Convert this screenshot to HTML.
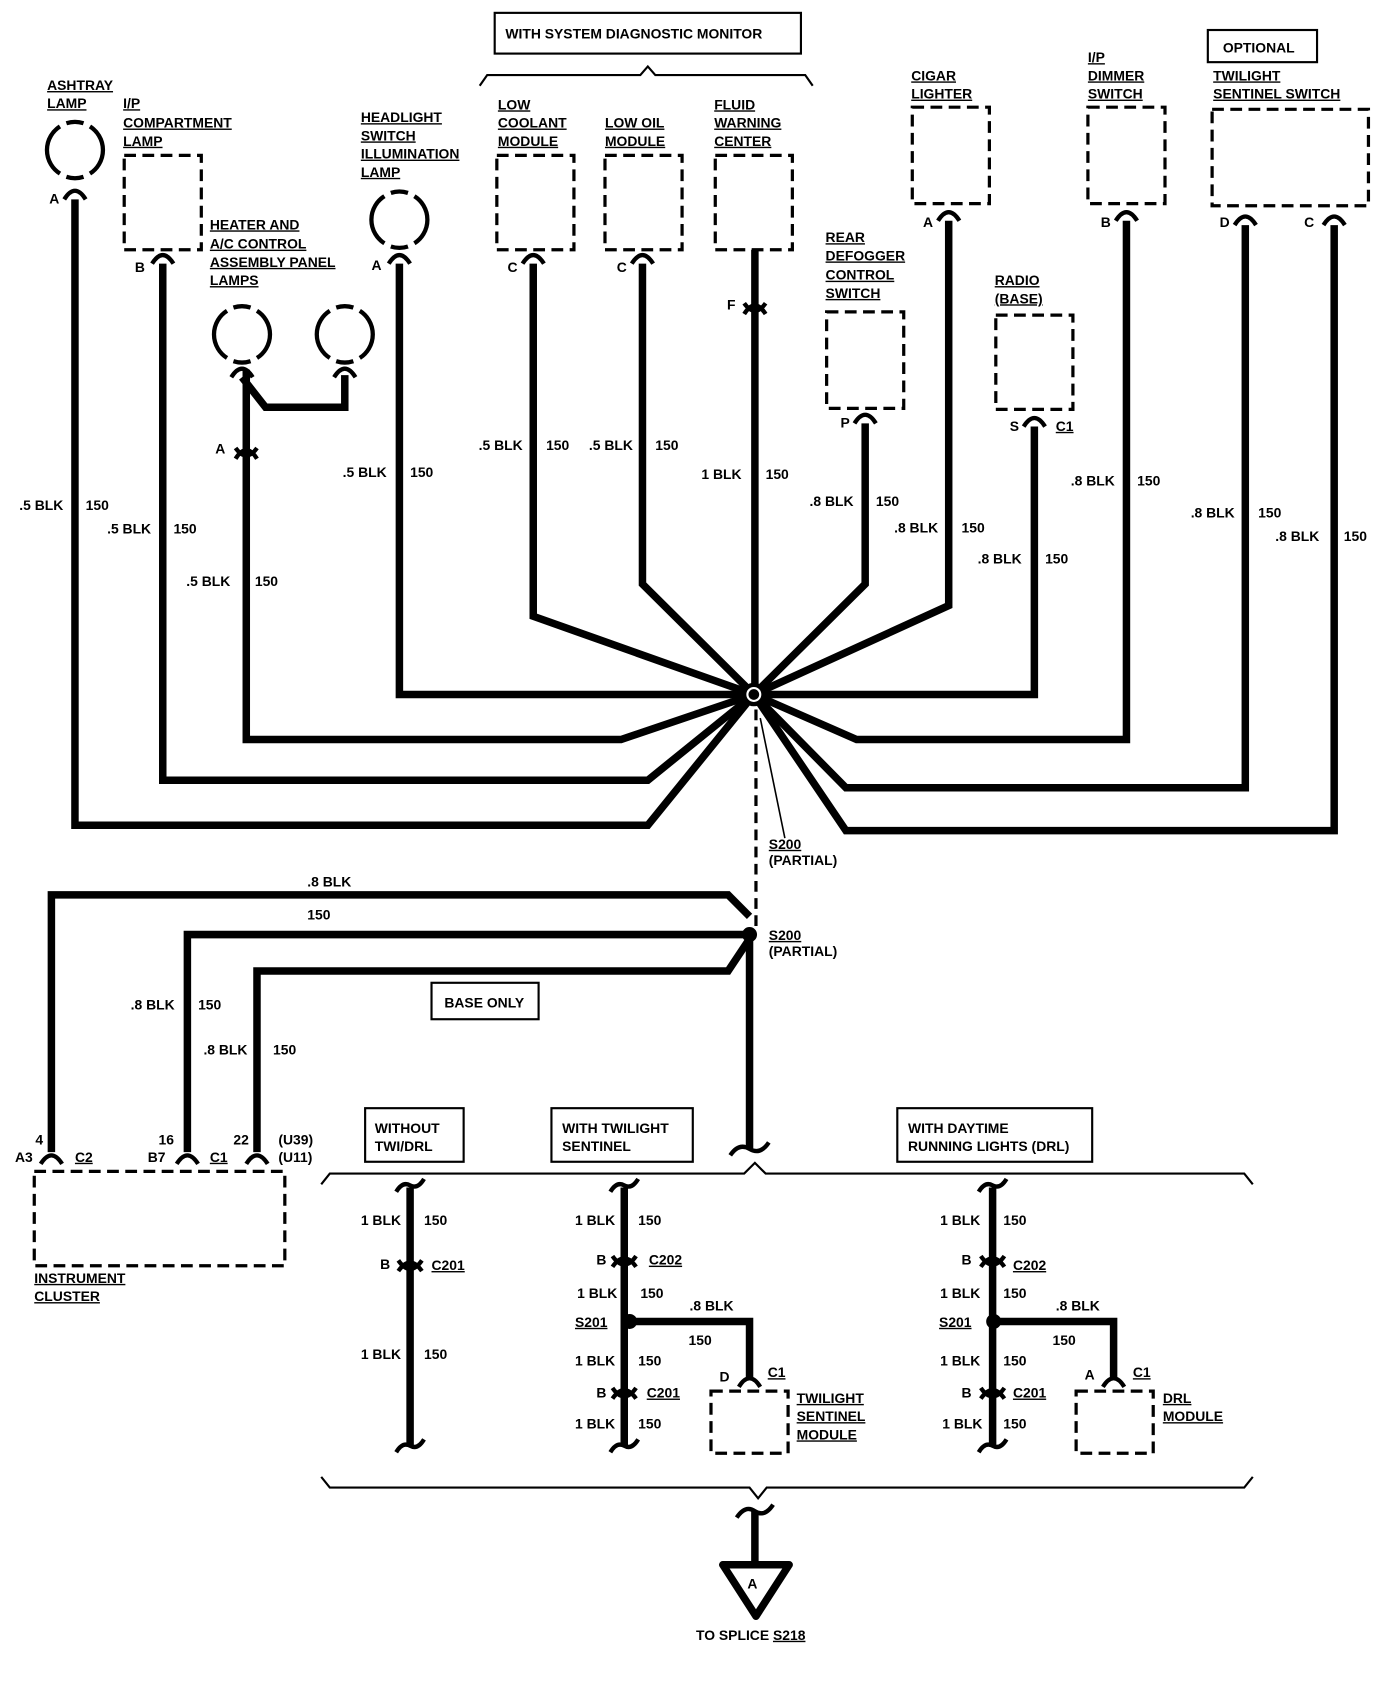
<!DOCTYPE html>
<html><head><meta charset="utf-8"><style>
html,body{margin:0;padding:0;background:#fff}
svg{display:block}
text{font-family:"Liberation Sans",sans-serif;font-weight:bold;font-size:13px;fill:#000}
.w{fill:none;stroke:#000;stroke-width:7;stroke-linejoin:miter}
.b{fill:none;stroke:#000;stroke-width:3;stroke-dasharray:11 6}
.c{fill:none;stroke:#000;stroke-width:4}
.t{fill:none;stroke:#000;stroke-width:2}
.l{fill:none;stroke:#000;stroke-width:4}
</style></head><body>
<svg width="1392" height="1688" viewBox="0 0 1300 1575" preserveAspectRatio="none" xmlns="http://www.w3.org/2000/svg">
<defs>
<g id="lamp">
<path d="M-14 -22 A26 26 0 0 0 -14 22" class="l"/>
<path d="M14 -22 A26 26 0 0 1 14 22" class="l"/>
<path d="M-8 -25 A26 26 0 0 1 8 -25" class="l"/>
<path d="M-8 25 A26 26 0 0 0 8 25" class="l"/>
</g>
</defs>
<rect x="462" y="12" width="286" height="38" class="t"/>
<text x="472" y="36">WITH SYSTEM DIAGNOSTIC MONITOR</text>
<path d="M448 80 L455 70 L598 70 L605 62 L612 70 L752 70 L759 80" class="t"/>
<rect x="1128" y="28" width="102" height="30" class="t"/>
<text x="1142" y="49">OPTIONAL</text>

<g text-decoration="underline">
<text x="44" y="84">ASHTRAY</text><text x="44" y="101">LAMP</text>
<text x="115" y="101">I/P</text><text x="115" y="119">COMPARTMENT</text><text x="115" y="136">LAMP</text>
<text x="196" y="214">HEATER AND</text><text x="196" y="232">A/C CONTROL</text><text x="196" y="249">ASSEMBLY PANEL</text><text x="196" y="266">LAMPS</text>
<text x="337" y="114">HEADLIGHT</text><text x="337" y="131">SWITCH</text><text x="337" y="148">ILLUMINATION</text><text x="337" y="165">LAMP</text>
<text x="465" y="102">LOW</text><text x="465" y="119">COOLANT</text><text x="465" y="136">MODULE</text>
<text x="565" y="119">LOW OIL</text><text x="565" y="136">MODULE</text>
<text x="667" y="102">FLUID</text><text x="667" y="119">WARNING</text><text x="667" y="136">CENTER</text>
<text x="851" y="75">CIGAR</text><text x="851" y="92">LIGHTER</text>
<text x="1016" y="58">I/P</text><text x="1016" y="75">DIMMER</text><text x="1016" y="92">SWITCH</text>
<text x="1133" y="75">TWILIGHT</text><text x="1133" y="92">SENTINEL SWITCH</text>
<text x="771" y="226">REAR</text><text x="771" y="243">DEFOGGER</text><text x="771" y="261">CONTROL</text><text x="771" y="278">SWITCH</text>
<text x="929" y="266">RADIO</text><text x="929" y="283">(BASE)</text>
</g>

<use href="#lamp" x="70" y="140"/>
<use href="#lamp" x="373" y="205"/>
<use href="#lamp" x="226" y="312"/>
<use href="#lamp" x="322" y="312"/>

<rect x="116" y="145" width="72" height="88" class="b"/>
<rect x="464" y="145" width="72" height="88" class="b"/>
<rect x="565" y="145" width="72" height="88" class="b"/>
<rect x="668" y="145" width="72" height="88" class="b"/>
<rect x="852" y="100" width="72" height="90" class="b"/>
<rect x="1016" y="100" width="72" height="90" class="b"/>
<rect x="1132" y="102" width="146" height="90" class="b"/>
<rect x="772" y="291" width="72" height="90" class="b"/>
<rect x="930" y="294" width="72" height="88" class="b"/>

<g class="c">
<path d="M60 186 Q70 170 80 186"/><path d="M142 246 Q152 230 162 246"/>
<path d="M363 246 Q373 230 383 246"/><path d="M488 246 Q498 230 508 246"/>
<path d="M590 246 Q600 230 610 246"/><path d="M876 206 Q886 190 896 206"/>
<path d="M1042 206 Q1052 190 1062 206"/><path d="M1153 210 Q1163 194 1173 210"/>
<path d="M1236 210 Q1246 194 1256 210"/><path d="M798 395 Q808 379 818 395"/>
<path d="M956 398 Q966 382 976 398"/><path d="M216 352 Q226 336 236 352"/>
<path d="M312 352 Q322 336 332 352"/>
<path d="M220 428 Q230 412 240 428"/><path d="M220 418 Q230 432 240 418"/>
<path d="M695 293 Q705 277 715 293"/><path d="M695 283 Q705 297 715 283"/>
</g>
<g font-size="12">
<text x="46" y="190">A</text><text x="126" y="254">B</text><text x="347" y="252">A</text>
<text x="474" y="254">C</text><text x="576" y="254">C</text><text x="679" y="289">F</text>
<text x="862" y="212">A</text><text x="1028" y="212">B</text><text x="1139" y="212">D</text><text x="1218" y="212">C</text>
<text x="785" y="399">P</text><text x="943" y="402">S</text><text x="986" y="402" text-decoration="underline">C1</text>
<text x="201" y="423">A</text>
</g>

<g class="w">
<path d="M70 186 V770 H605 L704 648"/>
<path d="M152 246 V728 H605 L704 648"/>
<path d="M230 345 V690 H580 L704 648"/>
<path d="M226 352 L248 380 H322 V350"/>
<path d="M373 246 V648 H704"/>
<path d="M498 246 V575 L704 648"/>
<path d="M600 246 V545 L704 648"/>
<path d="M705 233 V648"/>
<path d="M808 395 V545 L704 648"/>
<path d="M886 206 V565 L704 648"/>
<path d="M966 398 V648 H704"/>
<path d="M1052 206 V690 H800 L704 648"/>
<path d="M1163 210 V735 H790 L704 648"/>
<path d="M1246 210 V775 H790 L704 648"/>
</g>
<circle cx="704" cy="648" r="9" fill="#fff" stroke="#000" stroke-width="4"/>
<circle cx="704" cy="648" r="5" fill="#000"/>
<path d="M706 662 V870" stroke="#000" stroke-width="3" stroke-dasharray="10 6"/>
<path d="M710 670 L733 782" stroke="#000" stroke-width="1.5"/>
<text x="718" y="792" text-decoration="underline">S200</text><text x="718" y="807">(PARTIAL)</text>

<g>
<text x="18" y="476">.5 BLK</text><text x="80" y="476">150</text>
<text x="100" y="498">.5 BLK</text><text x="162" y="498">150</text>
<text x="174" y="547">.5 BLK</text><text x="238" y="547">150</text>
<text x="320" y="445">.5 BLK</text><text x="383" y="445">150</text>
<text x="447" y="420">.5 BLK</text><text x="510" y="420">150</text>
<text x="550" y="420">.5 BLK</text><text x="612" y="420">150</text>
<text x="655" y="447">1 BLK</text><text x="715" y="447">150</text>
<text x="756" y="472">.8 BLK</text><text x="818" y="472">150</text>
<text x="835" y="497">.8 BLK</text><text x="898" y="497">150</text>
<text x="913" y="526">.8 BLK</text><text x="976" y="526">150</text>
<text x="1000" y="453">.8 BLK</text><text x="1062" y="453">150</text>
<text x="1112" y="483">.8 BLK</text><text x="1175" y="483">150</text>
<text x="1191" y="505">.8 BLK</text><text x="1255" y="505">150</text>
</g>

<g class="w">
<path d="M48 1075 V835 H680 L700 855"/>
<path d="M175 1075 V872 H700"/>
<path d="M240 1075 V906 H680 L700 876"/>
<path d="M700 872 V1072"/>
</g>
<circle cx="700" cy="872" r="7" fill="#000"/>
<path d="M682 1078 Q690 1066 700 1072 Q710 1078 718 1066" class="c"/>
<text x="718" y="877" text-decoration="underline">S200</text><text x="718" y="892">(PARTIAL)</text>
<text x="287" y="827">.8 BLK</text><text x="287" y="858">150</text>
<text x="122" y="942">.8 BLK</text><text x="185" y="942">150</text>
<text x="190" y="984">.8 BLK</text><text x="255" y="984">150</text>
<rect x="403" y="917" width="100" height="34" class="t"/><text x="415" y="940">BASE ONLY</text>

<g class="c"><path d="M38 1086 Q48 1070 58 1086"/><path d="M165 1086 Q175 1070 185 1086"/><path d="M230 1086 Q240 1070 250 1086"/></g>
<rect x="32" y="1093" width="234" height="88" class="b"/>
<text x="33" y="1068">4</text><text x="14" y="1084">A3</text><text x="70" y="1084" text-decoration="underline">C2</text>
<text x="148" y="1068">16</text><text x="138" y="1084">B7</text><text x="196" y="1084" text-decoration="underline">C1</text>
<text x="218" y="1068">22</text><text x="260" y="1068">(U39)</text><text x="260" y="1084">(U11)</text>
<text x="32" y="1197" text-decoration="underline">INSTRUMENT</text><text x="32" y="1214" text-decoration="underline">CLUSTER</text>

<path d="M300 1105 L308 1095 L695 1095 L705 1085 L715 1095 L1162 1095 L1170 1105" class="t"/>
<path d="M300 1378 L308 1388 L700 1388 L708 1398 L716 1388 L1162 1388 L1170 1378" class="t"/>
<rect x="341" y="1034" width="92" height="50" class="t"/><text x="350" y="1057">WITHOUT</text><text x="350" y="1074">TWI/DRL</text>
<rect x="515" y="1034" width="132" height="50" class="t"/><text x="525" y="1057">WITH TWILIGHT</text><text x="525" y="1074">SENTINEL</text>
<rect x="838" y="1034" width="182" height="50" class="t"/><text x="848" y="1057">WITH DAYTIME</text><text x="848" y="1074">RUNNING LIGHTS (DRL)</text>

<path d="M383 1108 V1350" class="w"/>
<g class="c">
<path d="M370 1112 Q376 1102 383 1106 Q390 1110 396 1100"/><path d="M370 1355 Q376 1345 383 1349 Q390 1353 396 1343"/>
<path d="M372 1186 Q383 1170 394 1186"/><path d="M372 1176 Q383 1192 394 1176"/>
</g>
<text x="337" y="1143">1 BLK</text><text x="396" y="1143">150</text>
<text x="355" y="1184">B</text><text x="403" y="1185" text-decoration="underline">C201</text>
<text x="337" y="1268">1 BLK</text><text x="396" y="1268">150</text>

<g class="w"><path d="M583 1108 V1350"/><path d="M583 1233 H700 V1285"/></g>
<circle cx="588" cy="1233" r="7" fill="#000"/>
<g class="c">
<path d="M570 1112 Q576 1102 583 1106 Q590 1110 596 1100"/><path d="M570 1355 Q576 1345 583 1349 Q590 1353 596 1343"/>
<path d="M572 1182 Q583 1166 594 1182"/><path d="M572 1172 Q583 1188 594 1172"/>
<path d="M572 1305 Q583 1289 594 1305"/><path d="M572 1295 Q583 1311 594 1295"/>
<path d="M690 1294 Q700 1278 710 1294"/>
</g>
<rect x="664" y="1298" width="72" height="58" class="b"/>
<text x="537" y="1143">1 BLK</text><text x="596" y="1143">150</text>
<text x="557" y="1180">B</text><text x="606" y="1180" text-decoration="underline">C202</text>
<text x="539" y="1211">1 BLK</text><text x="598" y="1211">150</text>
<text x="537" y="1238" text-decoration="underline">S201</text>
<text x="644" y="1223">.8 BLK</text><text x="643" y="1255">150</text>
<text x="537" y="1274">1 BLK</text><text x="596" y="1274">150</text>
<text x="557" y="1304">B</text><text x="604" y="1304" text-decoration="underline">C201</text>
<text x="537" y="1333">1 BLK</text><text x="596" y="1333">150</text>
<text x="672" y="1289">D</text><text x="717" y="1285" text-decoration="underline">C1</text>
<g text-decoration="underline"><text x="744" y="1309">TWILIGHT</text><text x="744" y="1326">SENTINEL</text><text x="744" y="1343">MODULE</text></g>

<g class="w"><path d="M927 1108 V1350"/><path d="M927 1233 H1040 V1285"/></g>
<circle cx="928" cy="1233" r="7" fill="#000"/>
<g class="c">
<path d="M914 1112 Q920 1102 927 1106 Q934 1110 940 1100"/><path d="M914 1355 Q920 1345 927 1349 Q934 1353 940 1343"/>
<path d="M916 1182 Q927 1166 938 1182"/><path d="M916 1172 Q927 1188 938 1172"/>
<path d="M916 1305 Q927 1289 938 1305"/><path d="M916 1295 Q927 1311 938 1295"/>
<path d="M1030 1294 Q1040 1278 1050 1294"/>
</g>
<rect x="1005" y="1298" width="72" height="58" class="b"/>
<text x="878" y="1143">1 BLK</text><text x="937" y="1143">150</text>
<text x="898" y="1180">B</text><text x="946" y="1185" text-decoration="underline">C202</text>
<text x="878" y="1211">1 BLK</text><text x="937" y="1211">150</text>
<text x="877" y="1238" text-decoration="underline">S201</text>
<text x="986" y="1223">.8 BLK</text><text x="983" y="1255">150</text>
<text x="878" y="1274">1 BLK</text><text x="937" y="1274">150</text>
<text x="898" y="1304">B</text><text x="946" y="1304" text-decoration="underline">C201</text>
<text x="880" y="1333">1 BLK</text><text x="937" y="1333">150</text>
<text x="1013" y="1287">A</text><text x="1058" y="1285" text-decoration="underline">C1</text>
<g text-decoration="underline"><text x="1086" y="1309">DRL</text><text x="1086" y="1326">MODULE</text></g>

<path d="M705 1410 V1462" class="w"/>
<path d="M688 1416 Q696 1404 705 1410 Q714 1416 722 1404" class="c"/>
<path d="M675 1460 L737 1460 L706 1508 Z" fill="none" stroke="#000" stroke-width="7" stroke-linejoin="round"/>
<text x="698" y="1482" font-size="14">A</text>
<text x="650" y="1530">TO SPLICE <tspan text-decoration="underline">S218</tspan></text>
</svg>
</body></html>
